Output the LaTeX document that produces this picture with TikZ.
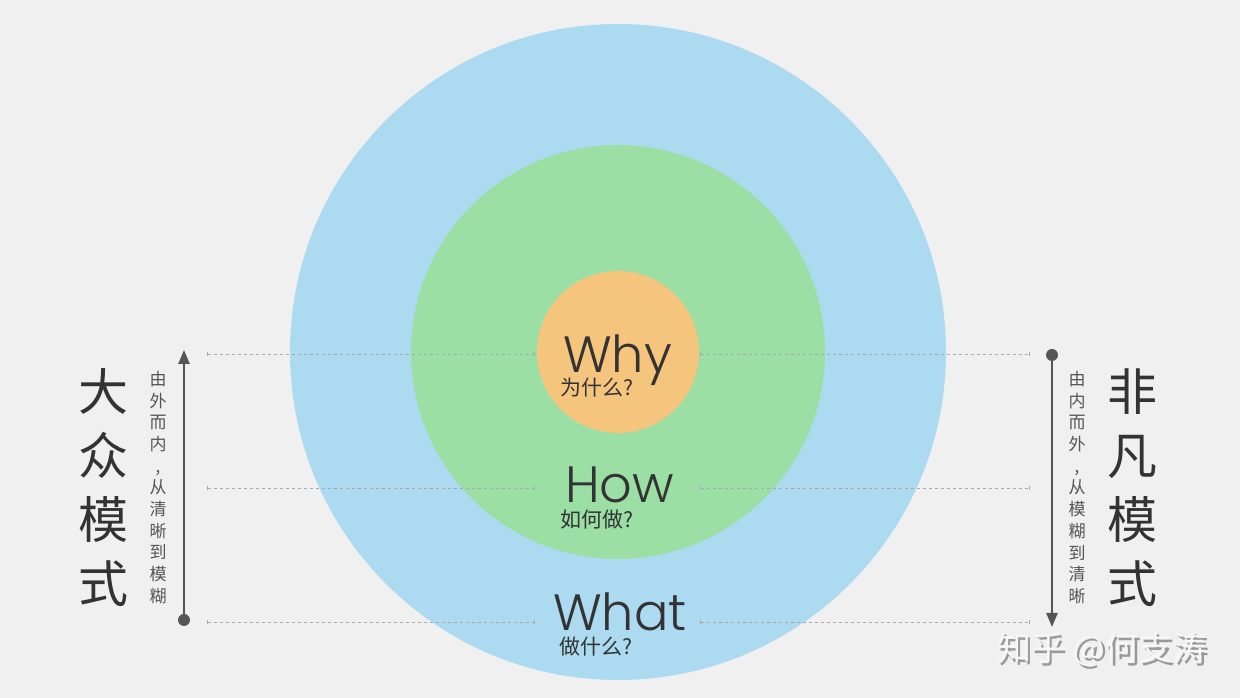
\documentclass[tikz,border=0pt]{standalone}
\usepackage{fontspec}
\usetikzlibrary{arrows.meta}
\setmainfont{Poppins}[UprightFont=* Light]
\newfontfamily\cjk{Noto Sans CJK SC}
\definecolor{mbg}{HTML}{F0F0F0}
\definecolor{mblue}{HTML}{ACDAF0}
\definecolor{mgreen}{HTML}{9BDFA5}
\definecolor{morange}{HTML}{F5C57E}
\definecolor{mink}{HTML}{333333}
\definecolor{mgrey}{HTML}{555555}
\newcommand\shadetext[1]{\rlap{\kern2.5pt\raisebox{-2.5pt}{\color{black!40}#1}}#1}

\begin{document}
\begin{tikzpicture}[x=1pt, y=1pt,
    guide/.style={mgrey!50, line width=0.8pt, dash pattern=on 3pt off 3pt, {Bar[width=4pt]}-{Bar[width=4pt]}},
    flow/.style={mgrey, line width=2.5pt, -{Triangle[length=14pt, width=11pt]}},
    word/.style={inner sep=0, anchor=base west, mink, font=\fontsize{51}{51}\selectfont},
    gloss/.style={inner sep=0, anchor=base west, mink, font=\cjk\fontsize{21}{21}\selectfont},
    mode/.style={inner sep=0, align=center, mink, font=\cjk\fontsize{50}{64}\selectfont},
    hint/.style={inner sep=0, align=center, mgrey, font=\cjk\fontsize{17}{21.7}\selectfont}]
    \fill [mbg] (0, 0) rectangle (1240, 698);

    \fill [mblue] (618, 346) circle (328);
    \fill [mgreen] (618, 346) circle (207);
    \fill [morange] (618, 346) circle (81);

    \node [word] (why) at (563, 325) {Why};
    \node [gloss] (whyzh) at (560, 302.5) {\cjk 为什么?};
    \node [word] (how) at (565, 195) {How};
    \node [gloss] (howzh) at (560, 170) {\cjk 如何做?};
    \node [word] (what) at (553, 67) {What};
    \node [gloss] (whatzh) at (559, 43) {\cjk 做什么?};

    \coordinate (whyL) at (207, 344);
    \coordinate (whyA) at (535, 344);
    \coordinate (whyB) at (700, 344);
    \coordinate (whyR) at (1030, 344);
    \coordinate (howL) at (207, 210);
    \coordinate (howA) at (535, 210);
    \coordinate (howB) at (700, 210);
    \coordinate (howR) at (1030, 210);
    \coordinate (whatL) at (207, 76);
    \coordinate (whatA) at (535, 76);
    \coordinate (whatB) at (700, 76);
    \coordinate (whatR) at (1030, 76);
    \draw [guide] (whyL) -- (whyA);
    \draw [guide] (whyB) -- (whyR);
    \draw [guide] (howL) -- (howA);
    \draw [guide] (howB) -- (howR);
    \draw [guide] (whatL) -- (whatA);
    \draw [guide] (whatB) -- (whatR);

    \coordinate (inBot) at (184, 78);
    \coordinate (inTop) at (184, 348);
    \draw [flow] (inBot) -- (inTop);
    \fill [mgrey] (inBot) circle (6);
    \coordinate (outTop) at (1052, 343);
    \coordinate (outBot) at (1052, 71);
    \draw [flow] (outTop) -- (outBot);
    \fill [mgrey] (outTop) circle (6);

    \node [mode] (mass) at (103, 210.5) {大\\众\\模\\式};
    \node [hint] (massway) at (158, 210.5) {由\\外\\而\\内\\,\\从\\清\\晰\\到\\模\\糊};
    \node [mode] (rare) at (1132, 210.5) {非\\凡\\模\\式};
    \node [hint] (rareway) at (1077, 210.5) {由\\内\\而\\外\\,\\从\\模\\糊\\到\\清\\晰};

    \node [inner sep=0, anchor=base west, white!97!black, font=\cjk\fontsize{34}{34}\selectfont] (mark) at (997, 37) {\shadetext{知乎 @何支涛}};
  \end{tikzpicture}
\end{document}
